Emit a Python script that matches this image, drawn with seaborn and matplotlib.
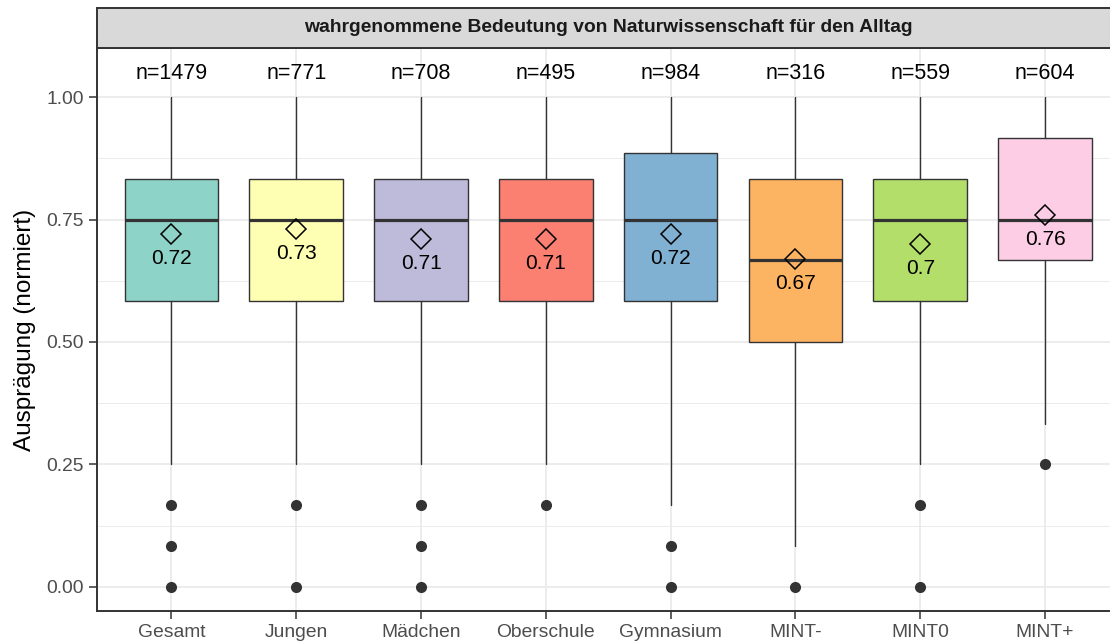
import matplotlib
matplotlib.use("Agg")
import matplotlib.pyplot as plt
from matplotlib.patches import Rectangle
from matplotlib.ticker import MultipleLocator
import numpy as np
import pandas as pd
import seaborn as sns

# Groups and their summary statistics (scale 0..1)
categories = ["Gesamt", "Jungen", "Mädchen", "Oberschule", "Gymnasium", "MINT-", "MINT0", "MINT+"]
n_counts = [1479, 771, 708, 495, 984, 316, 559, 604]
q1_vals = [0.5833, 0.5833, 0.5833, 0.5833, 0.5833, 0.5, 0.5833, 0.6667]
median_vals = [0.75, 0.75, 0.75, 0.75, 0.75, 0.6667, 0.75, 0.75]
q3_vals = [0.8333, 0.8333, 0.8333, 0.8333, 0.885, 0.8333, 0.8333, 0.9167]
whisker_low = [0.25, 0.25, 0.25, 0.25, 0.1667, 0.0833, 0.25, 0.3333]
whisker_high = [1.0, 1.0, 1.0, 1.0, 1.0, 1.0, 1.0, 1.0]
mean_vals = [0.72, 0.73, 0.71, 0.71, 0.72, 0.67, 0.70, 0.76]
outliers = [
    [0.1667, 0.0833, 0.0],
    [0.1667, 0.0],
    [0.1667, 0.0833, 0.0],
    [0.1667],
    [0.0833, 0.0],
    [0.0],
    [0.1667, 0.0],
    [0.25],
]
box_colors = ["#8DD3C7", "#FFFFB3", "#BEBADA", "#FB8072", "#80B1D3", "#FDB462", "#B3DE69", "#FCCDE5"]
panel_title = "wahrgenommene Bedeutung von Naturwissenschaft für den Alltag"
y_title = "Ausprägung (normiert)"

sns.set_theme(style="white")
plt.rcParams["font.family"] = ["Liberation Sans", "DejaVu Sans"]

W, H = 1110, 641
fig = plt.figure(figsize=(W / 100, H / 100), dpi=100)
fig.patch.set_facecolor("white")

# panel geometry in pixels (the panel runs slightly past the right border)
px_left, px_right, px_top, px_bottom = 96.5, 1120.0, 47.7, 611.3
ax = fig.add_axes([px_left / W, (H - px_bottom) / H,
                   (px_right - px_left) / W, (px_bottom - px_top) / H])

dark = "#333333"
positions = np.arange(len(categories))

# Boxes from precomputed statistics
stats = []
for i, cat in enumerate(categories):
    stats.append(dict(label=cat, q1=q1_vals[i], med=median_vals[i], q3=q3_vals[i],
                      whislo=whisker_low[i], whishi=whisker_high[i], fliers=[]))
bp = ax.bxp(stats, positions=positions, widths=0.75, patch_artist=True,
            showfliers=False, showcaps=False,
            boxprops=dict(edgecolor=dark, linewidth=1.0),
            medianprops=dict(color=dark, linewidth=2.3, solid_capstyle="butt"),
            whiskerprops=dict(color=dark, linewidth=1.0),
            manage_ticks=False, zorder=3)
for patch, col in zip(bp["boxes"], box_colors):
    patch.set_facecolor(col)

# Outlier points
out_df = pd.DataFrame(
    [(cat, v) for cat, vals in zip(categories, outliers) for v in vals],
    columns=["gruppe", "wert"])
sns.stripplot(data=out_df, x="gruppe", y="wert", order=categories, jitter=False,
              color=dark, size=8, linewidth=0, ax=ax, zorder=4)

# Means as open diamonds with their rounded value beneath
ax.plot(positions, mean_vals, linestyle="none", marker="D", markersize=10.2,
        markerfacecolor="none", markeredgecolor="black", markeredgewidth=1.1, zorder=5)
for x, m in zip(positions, mean_vals):
    ax.text(x, m - 0.05, f"{m:g}", ha="center", va="center", fontsize=15,
            color="black", zorder=6)

# Group sizes above the boxes
for x, n in zip(positions, n_counts):
    ax.text(x, 1.048, f"n={n}", ha="center", va="center", fontsize=15.5,
            color="black", zorder=6)

ax.set_xlim(-0.6, len(categories) - 1 + 0.6)
ax.set_ylim(-0.0502, 1.101)
ax.set_xticks(positions)
ax.set_xticklabels(categories)
ax.yaxis.set_major_locator(MultipleLocator(0.25))
ax.yaxis.set_minor_locator(MultipleLocator(0.125))
ax.set_yticks(np.arange(0, 1.01, 0.25))
ax.set_yticklabels([f"{v:.2f}" for v in np.arange(0, 1.01, 0.25)])
ax.set_xlabel("")
ax.set_ylabel(y_title, fontsize=17.5, color="black")
ax.yaxis.set_label_coords(-0.059, 0.5)

ax.set_axisbelow(True)
ax.grid(True, which="major", axis="both", color="#EBEBEB", linewidth=1.3)
ax.grid(True, which="minor", axis="y", color="#EBEBEB", linewidth=0.7)
ax.tick_params(axis="both", which="major", direction="out", length=6, width=1.1,
               color=dark, labelsize=13.9, labelcolor="#4D4D4D", pad=3,
               left=True, bottom=True)
ax.tick_params(axis="y", which="minor", length=0)
for side in ["left", "bottom", "right", "top"]:
    ax.spines[side].set_visible(True)
    ax.spines[side].set_color(dark)
    ax.spines[side].set_linewidth(1.4)

# Facet strip above the panel
strip_top = 8.3
fig.patches.append(Rectangle((px_left / W, (H - px_top) / H),
                             (px_right - px_left) / W, (px_top - strip_top) / H,
                             transform=fig.transFigure, facecolor="#D9D9D9",
                             edgecolor=dark, linewidth=1.4, zorder=1))
fig.text((px_left + px_right) / 2 / W, (H - (px_top + strip_top) / 2) / H, panel_title,
         ha="center", va="center", fontsize=13.9, fontweight="bold", color="#1A1A1A")

fig.savefig("out.png", dpi=100)
